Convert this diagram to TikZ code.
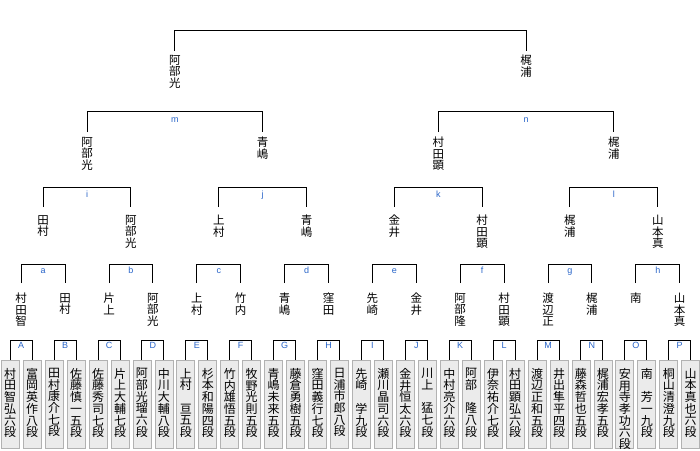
\documentclass[tikz,border=0pt]{standalone}
\usepackage{fontspec}
\newfontfamily\jp{Noto Sans CJK JP}
\newfontfamily\lat{Liberation Sans}
\definecolor{lblue}{RGB}{40,100,200}
\tikzset{
  box/.style={draw=gray!60, fill=gray!16, line width=0.8pt, minimum width=18pt, minimum height=88pt, inner sep=0pt, anchor=north},
  boxtxt/.style={anchor=north, inner sep=0pt, align=center, font=\jp\fontsize{12}{11.7}\selectfont},
  nm/.style={anchor=north, inner sep=0pt, align=center, font=\jp\fontsize{11.5}{11.5}\selectfont},
  lab/.style={inner sep=0pt, anchor=base, text=lblue, font=\lat\fontsize{9}{9}\selectfont},
  br/.style={draw=black, line width=1pt},
}
\begin{document}
\lineskiplimit=-50pt
\lineskip=0pt
\begin{tikzpicture}[x=1pt,y=-1pt]
\useasboundingbox (0,0) rectangle (700,450);
% bottom boxes
\foreach \nm [count=\i from 0] in {
 {村\\田\\智\\弘\\六\\段},{富\\岡\\英\\作\\八\\段},{田\\村\\康\\介\\七\\段},{佐\\藤\\慎\\一\\五\\段},
 {佐\\藤\\秀\\司\\七\\段},{片\\上\\大\\輔\\七\\段},{阿\\部\\光\\瑠\\六\\段},{中\\川\\大\\輔\\八\\段},
 {上\\村\\　\\亘\\五\\段},{杉\\本\\和\\陽\\四\\段},{竹\\内\\雄\\悟\\五\\段},{牧\\野\\光\\則\\五\\段},
 {青\\嶋\\未\\来\\五\\段},{藤\\倉\\勇\\樹\\五\\段},{窪\\田\\義\\行\\七\\段},{日\\浦\\市\\郎\\八\\段},
 {先\\崎\\　\\学\\九\\段},{瀬\\川\\晶\\司\\六\\段},{金\\井\\恒\\太\\六\\段},{川\\上\\　\\猛\\七\\段},
 {中\\村\\亮\\介\\六\\段},{阿\\部\\　\\隆\\八\\段},{伊\\奈\\祐\\介\\七\\段},{村\\田\\顕\\弘\\六\\段},
 {渡\\辺\\正\\和\\五\\段},{井\\出\\隼\\平\\四\\段},{藤\\森\\哲\\也\\五\\段},{梶\\浦\\宏\\孝\\五\\段},
 {安\\用\\寺\\孝\\功\\六\\段},{南\\　\\芳\\一\\九\\段},{桐\\山\\清\\澄\\九\\段},{山\\本\\真\\也\\六\\段}}{
  \pgfmathsetmacro\x{10.25+21.95*\i}
  \node[box] (b\i) at (\x,360) {};
  \node[boxtxt] (t\i) at (\x,368) {\nm};
}
% level 1 brackets A-P
\foreach \L [count=\k from 0] in {A,B,C,D,E,F,G,H,I,J,K,L,M,N,O,P}{
  \pgfmathtruncatemacro\l{2*\k}
  \pgfmathtruncatemacro\r{2*\k+1}
  \pgfmathsetmacro\xm{21.225+43.9*\k}
  \draw[br] (b\l.north) -- (b\l |- 0,340) -- (b\r |- 0,340) -- (b\r.north);
  \node[lab] (L\L) at (\xm,348) {\L};
}
% level 2 names
\foreach \nm [count=\k from 0] in {
 {村\\田\\智},{田\\村},{片\\上},{阿\\部\\光},{上\\村},{竹\\内},{青\\嶋},{窪\\田},
 {先\\崎},{金\\井},{阿\\部\\隆},{村\\田\\顕},{渡\\辺\\正},{梶\\浦},{南},{山\\本\\真}}{
  \pgfmathsetmacro\x{21.225+43.9*\k}
  \node[nm] (p2-\k) at (\x,293) {\nm};
}
\foreach \L [count=\k from 0] in {a,b,c,d,e,f,g,h}{
  \pgfmathtruncatemacro\l{2*\k}
  \pgfmathtruncatemacro\r{2*\k+1}
  \pgfmathsetmacro\xm{43.175+87.8*\k}
  \draw[br] (p2-\l |- 0,283) -- (p2-\l |- 0,264) -- (p2-\r |- 0,264) -- (p2-\r |- 0,283);
  \node[lab] (l\L) at (\xm,273) {\L};
}
% level 3 names
\foreach \nm [count=\k from 0] in {
 {田\\村},{阿\\部\\光},{上\\村},{青\\嶋},{金\\井},{村\\田\\顕},{梶\\浦},{山\\本\\真}}{
  \pgfmathsetmacro\x{43.175+87.8*\k}
  \node[nm] (p3-\k) at (\x,215) {\nm};
}
\foreach \L [count=\k from 0] in {i,j,k,l}{
  \pgfmathtruncatemacro\l{2*\k}
  \pgfmathtruncatemacro\r{2*\k+1}
  \pgfmathsetmacro\xm{87.075+175.6*\k}
  \draw[br] (p3-\l |- 0,207) -- (p3-\l |- 0,187) -- (p3-\r |- 0,187) -- (p3-\r |- 0,207);
  \node[lab] (l\L) at (\xm,197) {\L};
}
% level 4 names
\foreach \nm [count=\k from 0] in {{阿\\部\\光},{青\\嶋},{村\\田\\顕},{梶\\浦}}{
  \pgfmathsetmacro\x{87.075+175.6*\k}
  \node[nm] (p4-\k) at (\x,137) {\nm};
}
\foreach \L [count=\k from 0] in {m,n}{
  \pgfmathtruncatemacro\l{2*\k}
  \pgfmathtruncatemacro\r{2*\k+1}
  \pgfmathsetmacro\xm{174.875+351.2*\k}
  \draw[br] (p4-\l |- 0,132) -- (p4-\l |- 0,111) -- (p4-\r |- 0,111) -- (p4-\r |- 0,132);
  \node[lab] (l\L) at (\xm,122) {\L};
}
% final
\node[nm] (p5-0) at (174.875,55) {阿\\部\\光};
\node[nm] (p5-1) at (526.075,55) {梶\\浦};
\draw[br] (p5-0 |- 0,51) -- (p5-0 |- 0,30) -- (p5-1 |- 0,30) -- (p5-1 |- 0,51);
\end{tikzpicture}
\end{document}
